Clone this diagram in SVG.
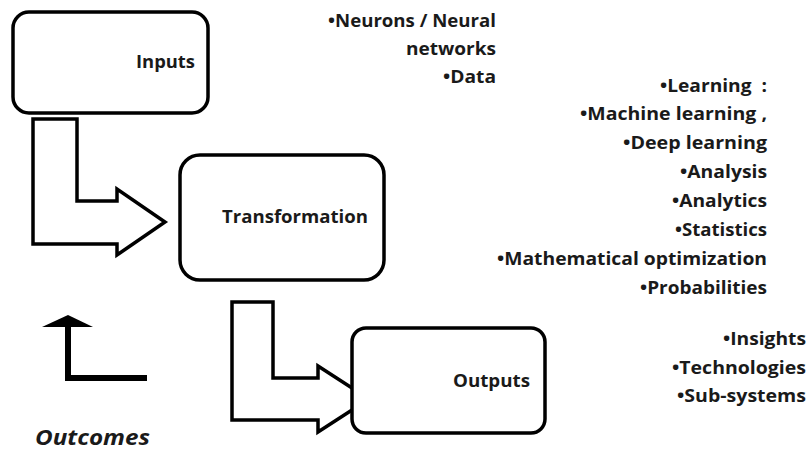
<svg xmlns="http://www.w3.org/2000/svg" width="809" height="452" viewBox="0 0 809 452">
<style>
.box{fill:#fff;stroke:#000;stroke-width:3.5}
.conn{fill:#fff;stroke:#000;stroke-width:3.5;stroke-linejoin:miter}
.t{font-family:"Open Sans","Liberation Sans",sans-serif;font-weight:bold;font-size:18px;fill:#1a1a1a;text-anchor:end}
.o{font-family:"Open Sans","Liberation Sans",sans-serif;font-weight:bold;font-style:italic;font-size:22px;fill:#1a1a1a}
</style>
<rect width="809" height="452" fill="#fff"/>
<g id="connectors">
<path class="conn" d="M33,119 L77,119 L77,201 L117,201 L117,189 L165,222 L117,255 L117,244 L33,244 Z"/>
<path class="conn" d="M232,302 L273,302 L273,378 L318,378 L318,366 L369,399 L318,432 L318,420 L232,420 Z"/>
</g>
<g id="inputs">
<rect class="box" x="13" y="12" width="195" height="101" rx="16"/>
<text class="t" x="195" y="68" textLength="59" lengthAdjust="spacingAndGlyphs">Inputs</text>
</g>
<g id="transformation">
<rect class="box" x="180" y="155" width="204" height="125" rx="20"/>
<text class="t" x="368" y="223" textLength="146" lengthAdjust="spacingAndGlyphs">Transformation</text>
</g>
<g id="outputs">
<rect class="box" x="352" y="328" width="193" height="105" rx="14"/>
<text class="t" x="530" y="387" textLength="77" lengthAdjust="spacingAndGlyphs">Outputs</text>
</g>
<g id="outcomes">
<path d="M147,378 L68,378 L68,325" fill="none" stroke="#000" stroke-width="6"/>
<polygon points="42,327 93,327 68,315" fill="#000"/>
<text class="o" x="35" y="445" textLength="115" lengthAdjust="spacingAndGlyphs">Outcomes</text>
</g>
<g id="input-list">
<text class="t" x="496" y="27" textLength="168" lengthAdjust="spacingAndGlyphs">•Neurons / Neural</text>
<text class="t" x="496" y="55" textLength="90" lengthAdjust="spacingAndGlyphs">networks</text>
<text class="t" x="496" y="83" textLength="53" lengthAdjust="spacingAndGlyphs">•Data</text>
</g>
<g id="transformation-list">
<text class="t" x="767" y="92" textLength="107" lengthAdjust="spacingAndGlyphs" xml:space="preserve">•Learning  :</text>
<text class="t" x="767" y="120" textLength="187" lengthAdjust="spacingAndGlyphs">•Machine learning ,</text>
<text class="t" x="767" y="149" textLength="144" lengthAdjust="spacingAndGlyphs">•Deep learning</text>
<text class="t" x="767" y="178" textLength="87" lengthAdjust="spacingAndGlyphs">•Analysis</text>
<text class="t" x="767" y="207" textLength="95" lengthAdjust="spacingAndGlyphs">•Analytics</text>
<text class="t" x="767" y="236" textLength="92" lengthAdjust="spacingAndGlyphs">•Statistics</text>
<text class="t" x="767" y="265" textLength="270" lengthAdjust="spacingAndGlyphs">•Mathematical optimization</text>
<text class="t" x="767" y="294" textLength="127" lengthAdjust="spacingAndGlyphs">•Probabilities</text>
</g>
<g id="output-list">
<text class="t" x="806" y="345" textLength="83" lengthAdjust="spacingAndGlyphs">•Insights</text>
<text class="t" x="806" y="374" textLength="134" lengthAdjust="spacingAndGlyphs">•Technologies</text>
<text class="t" x="806" y="402" textLength="129" lengthAdjust="spacingAndGlyphs">•Sub-systems</text>
</g>
</svg>
